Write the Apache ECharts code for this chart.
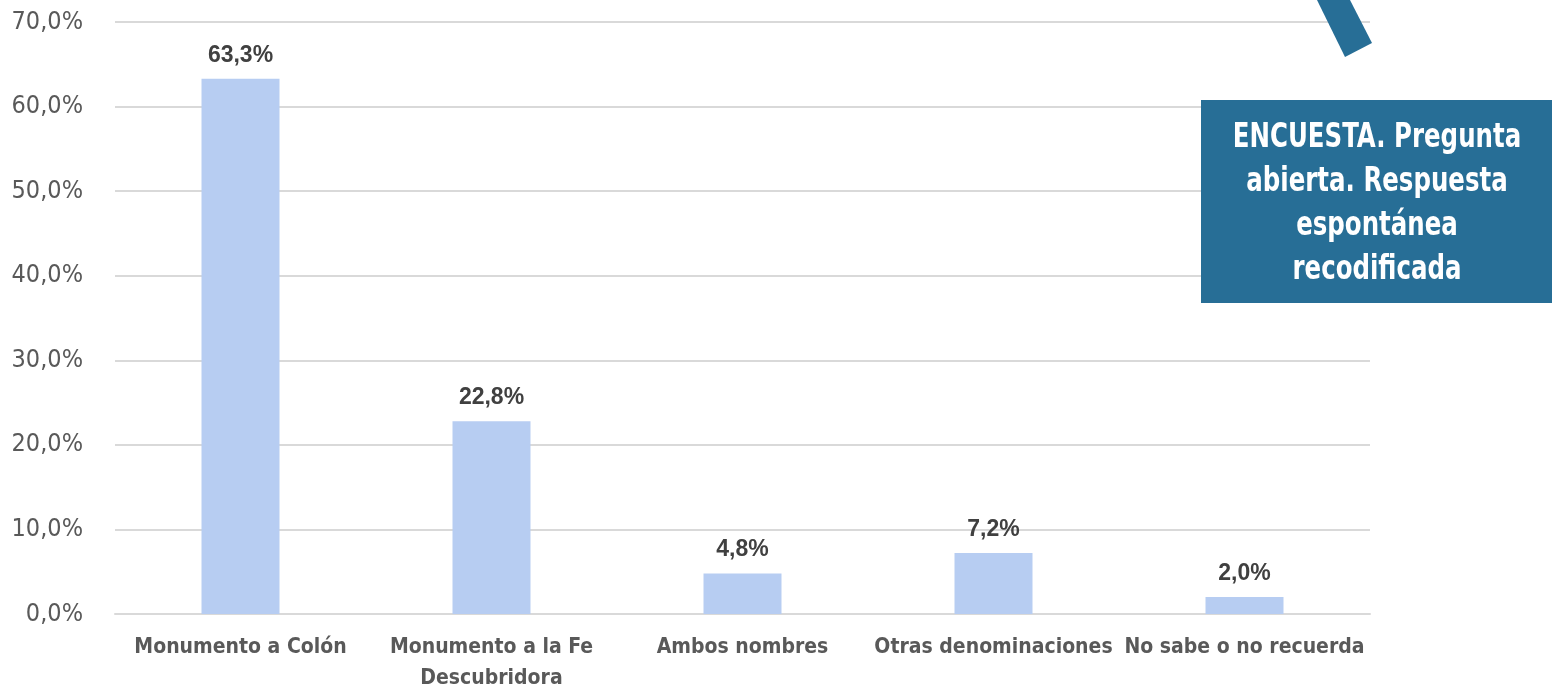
<!DOCTYPE html>
<html>
<head>
<meta charset="utf-8">
<script src="https://cdn.jsdelivr.net/npm/echarts@6/dist/echarts.min.js"></script>
<style>
html, body { margin: 0; padding: 0; background: #fff; }
#chart { width: 1552px; height: 689px; }
</style>
</head>
<body>
<div id="chart"></div>
<script>
var categories = ['Monumento a Colón', 'Monumento a la Fe\nDescubridora', 'Ambos nombres', 'Otras denominaciones', 'No sabe o no recuerda'];
var values = [63.3, 22.8, 4.8, 7.2, 2.0];
var noteText = 'ENCUESTA. Pregunta\nabierta. Respuesta\nespontánea\nrecodificada';

var condensed = '"Liberation Sans Narrow", "DejaVu Sans Condensed", "Roboto", sans-serif';

function pct(v) {
    return v.toFixed(1).replace('.', ',') + '%';
}

var myChart = echarts.init(document.getElementById('chart'));

myChart.setOption({
    animation: false,
    grid: { left: 115, right: 182, top: 22, bottom: 75, outerBoundsMode: 'none' },
    xAxis: {
        type: 'category',
        data: categories,
        axisLine: { lineStyle: { color: '#d9d9d9', width: 2 } },
        axisTick: { show: false },
        axisLabel: {
            interval: 0,
            margin: 18,
            color: '#595959',
            fontFamily: condensed,
            fontWeight: 'bold',
            fontSize: 21,
            lineHeight: 31
        }
    },
    yAxis: {
        type: 'value',
        min: 0,
        max: 70,
        interval: 10,
        axisLine: { show: false },
        axisTick: { show: false },
        splitLine: { lineStyle: { color: '#d9d9d9', width: 2 } },
        axisLabel: {
            margin: 32,
            color: '#595959',
            fontFamily: condensed,
            fontSize: 25,
            formatter: function (v) { return pct(v); }
        }
    },
    series: [{
        type: 'bar',
        data: values,
        barWidth: 78,
        itemStyle: { color: '#b7cdf2' },
        label: {
            show: true,
            position: 'top',
            distance: 12,
            color: '#404040',
            fontFamily: '"Liberation Sans", Arial, sans-serif',
            fontWeight: 'bold',
            fontSize: 23,
            formatter: function (p) { return pct(p.value); }
        }
    }],
    graphic: [
        {
            type: 'polygon',
            z: 100,
            shape: { points: [[1317, 0], [1350, 0], [1372, 43], [1345, 57]] },
            style: { fill: '#276e96' }
        },
        {
            type: 'rect',
            z: 100,
            shape: { x: 1201, y: 100, width: 351, height: 203 },
            style: { fill: '#276e96' }
        },
        {
            type: 'text',
            z: 101,
            x: 1377,
            y: 204,
            scaleX: 0.8,
            style: {
                text: noteText,
                fill: '#ffffff',
                font: 'bold 34px ' + condensed,
                lineHeight: 44,
                align: 'center',
                verticalAlign: 'middle'
            }
        }
    ]
});
</script>
</body>
</html>
